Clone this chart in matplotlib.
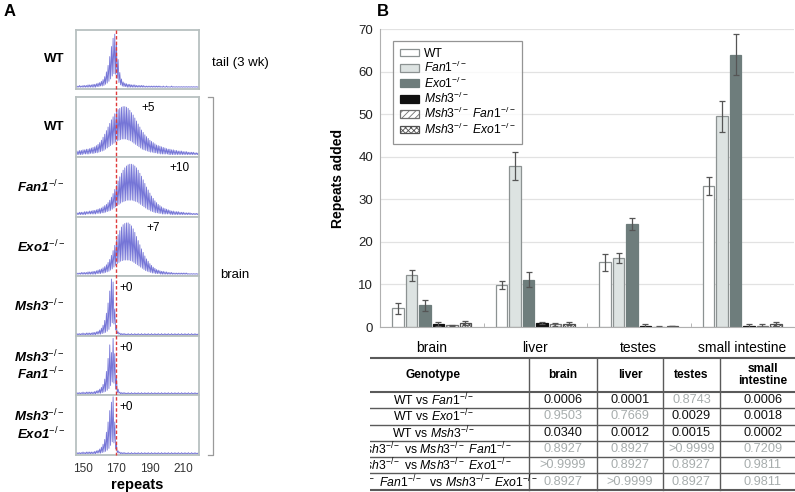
import numpy as np
import matplotlib
matplotlib.use("Agg")
import matplotlib.pyplot as plt
from matplotlib.lines import Line2D
from matplotlib.transforms import blended_transform_factory

plt.rcParams["font.family"] = ["Liberation Sans", "DejaVu Sans"]
plt.rcParams["mathtext.fontset"] = "custom"
plt.rcParams["mathtext.rm"] = "Liberation Sans"
plt.rcParams["mathtext.it"] = "Liberation Sans:italic"
plt.rcParams["mathtext.bf"] = "Liberation Sans:bold"
plt.rcParams["hatch.linewidth"] = 0.6

# ---------------- data: panel A (repeat-length traces, 146..220 repeats) ----------------
repeats = np.arange(146, 221)
reference_repeat = 169.6

tail_wt_peaks = [0.05, 0.05, 0.06, 0.05, 0.06, 0.06, 0.06, 0.07, 0.07, 0.07,
                 0.08, 0.08, 0.09, 0.10, 0.11, 0.13, 0.16, 0.21, 0.29, 0.40,
                 0.55, 0.72, 0.86, 0.93, 0.78, 0.50, 0.28, 0.17, 0.12, 0.10,
                 0.09, 0.08, 0.08, 0.07, 0.07, 0.07, 0.06, 0.06, 0.06, 0.06,
                 0.06, 0.05, 0.05, 0.05, 0.05, 0.05, 0.05, 0.05, 0.05, 0.05,
                 0.05, 0.04, 0.05, 0.04, 0.05, 0.04, 0.04, 0.05, 0.04, 0.04,
                 0.04, 0.04, 0.04, 0.04, 0.04, 0.04, 0.04, 0.04, 0.04, 0.04,
                 0.04, 0.04, 0.04, 0.04, 0.04]
tail_wt_valleys = [0.03, 0.03, 0.03, 0.03, 0.03, 0.03, 0.03, 0.03, 0.03, 0.03,
                   0.03, 0.03, 0.04, 0.04, 0.05, 0.05, 0.06, 0.08, 0.10, 0.13,
                   0.17, 0.22, 0.26, 0.25, 0.18, 0.11, 0.07, 0.05, 0.04, 0.04,
                   0.03, 0.03, 0.03, 0.03, 0.03, 0.03, 0.03, 0.03, 0.03, 0.03,
                   0.03, 0.03, 0.03, 0.03, 0.03, 0.03, 0.03, 0.03, 0.03, 0.03,
                   0.03, 0.03, 0.03, 0.03, 0.03, 0.03, 0.03, 0.03, 0.03, 0.03,
                   0.03, 0.03, 0.03, 0.03, 0.03, 0.03, 0.03, 0.03, 0.03, 0.03,
                   0.03, 0.03, 0.03, 0.03, 0.03]

brain_wt_peaks = [0.10, 0.10, 0.11, 0.11, 0.12, 0.12, 0.13, 0.13, 0.14, 0.15,
                  0.16, 0.17, 0.19, 0.21, 0.24, 0.28, 0.33, 0.38, 0.44, 0.50,
                  0.56, 0.62, 0.67, 0.72, 0.76, 0.79, 0.81, 0.83, 0.84, 0.84,
                  0.83, 0.81, 0.78, 0.74, 0.70, 0.65, 0.60, 0.55, 0.50, 0.45,
                  0.41, 0.37, 0.34, 0.31, 0.28, 0.26, 0.24, 0.22, 0.20, 0.19,
                  0.18, 0.17, 0.16, 0.15, 0.14, 0.13, 0.13, 0.12, 0.12, 0.11,
                  0.11, 0.10, 0.10, 0.10, 0.09, 0.09, 0.09, 0.08, 0.08, 0.08,
                  0.08, 0.07, 0.07, 0.07, 0.07]
brain_wt_valleys = [0.04, 0.04, 0.04, 0.04, 0.05, 0.05, 0.05, 0.05, 0.06, 0.06,
                    0.06, 0.07, 0.07, 0.08, 0.09, 0.10, 0.11, 0.13, 0.15, 0.17,
                    0.19, 0.21, 0.23, 0.25, 0.27, 0.28, 0.29, 0.30, 0.30, 0.30,
                    0.29, 0.28, 0.27, 0.25, 0.23, 0.21, 0.19, 0.17, 0.15, 0.13,
                    0.12, 0.11, 0.10, 0.09, 0.08, 0.08, 0.07, 0.07, 0.06, 0.06,
                    0.05, 0.05, 0.05, 0.05, 0.05, 0.04, 0.04, 0.04, 0.04, 0.04,
                    0.04, 0.04, 0.04, 0.04, 0.04, 0.04, 0.04, 0.04, 0.04, 0.04,
                    0.04, 0.04, 0.04, 0.04, 0.04]

brain_fan1_peaks = [0.07, 0.07, 0.08, 0.08, 0.08, 0.09, 0.09, 0.09, 0.10, 0.10,
                    0.11, 0.11, 0.12, 0.13, 0.14, 0.15, 0.17, 0.19, 0.21, 0.24,
                    0.28, 0.33, 0.39, 0.46, 0.53, 0.60, 0.67, 0.73, 0.78, 0.82,
                    0.85, 0.87, 0.88, 0.88, 0.87, 0.85, 0.82, 0.78, 0.73, 0.68,
                    0.62, 0.56, 0.50, 0.45, 0.40, 0.35, 0.31, 0.27, 0.24, 0.21,
                    0.19, 0.17, 0.15, 0.14, 0.13, 0.12, 0.11, 0.10, 0.10, 0.09,
                    0.09, 0.09, 0.08, 0.08, 0.08, 0.07, 0.07, 0.07, 0.07, 0.06,
                    0.06, 0.06, 0.06, 0.06, 0.06]
brain_fan1_valleys = [0.04, 0.04, 0.04, 0.04, 0.04, 0.04, 0.05, 0.05, 0.05, 0.05,
                      0.05, 0.05, 0.06, 0.06, 0.06, 0.07, 0.07, 0.08, 0.09, 0.10,
                      0.11, 0.13, 0.15, 0.17, 0.19, 0.21, 0.23, 0.25, 0.26, 0.27,
                      0.28, 0.28, 0.28, 0.28, 0.27, 0.26, 0.25, 0.23, 0.21, 0.19,
                      0.17, 0.15, 0.13, 0.12, 0.10, 0.09, 0.08, 0.07, 0.07, 0.06,
                      0.06, 0.05, 0.05, 0.05, 0.05, 0.05, 0.04, 0.04, 0.04, 0.04,
                      0.04, 0.04, 0.04, 0.04, 0.04, 0.04, 0.04, 0.04, 0.04, 0.04,
                      0.04, 0.04, 0.04, 0.04, 0.04]

brain_exo1_peaks = [0.05, 0.05, 0.05, 0.06, 0.06, 0.06, 0.06, 0.07, 0.07, 0.07,
                    0.08, 0.08, 0.09, 0.10, 0.11, 0.12, 0.14, 0.16, 0.19, 0.23,
                    0.28, 0.35, 0.43, 0.52, 0.61, 0.70, 0.77, 0.83, 0.87, 0.89,
                    0.90, 0.90, 0.88, 0.85, 0.80, 0.74, 0.67, 0.60, 0.53, 0.46,
                    0.40, 0.34, 0.29, 0.25, 0.21, 0.18, 0.15, 0.13, 0.11, 0.10,
                    0.09, 0.08, 0.08, 0.07, 0.07, 0.06, 0.06, 0.06, 0.05, 0.05,
                    0.05, 0.05, 0.05, 0.05, 0.05, 0.05, 0.05, 0.04, 0.04, 0.04,
                    0.04, 0.04, 0.04, 0.04, 0.04]
brain_exo1_valleys = [0.03, 0.03, 0.03, 0.03, 0.03, 0.03, 0.03, 0.03, 0.03, 0.03,
                      0.03, 0.03, 0.04, 0.04, 0.04, 0.05, 0.05, 0.06, 0.07, 0.08,
                      0.10, 0.12, 0.15, 0.18, 0.21, 0.23, 0.25, 0.26, 0.27, 0.27,
                      0.27, 0.27, 0.26, 0.25, 0.23, 0.21, 0.19, 0.17, 0.15, 0.13,
                      0.11, 0.09, 0.08, 0.07, 0.06, 0.05, 0.05, 0.04, 0.04, 0.04,
                      0.03, 0.03, 0.03, 0.03, 0.03, 0.03, 0.03, 0.03, 0.03, 0.03,
                      0.03, 0.03, 0.03, 0.03, 0.03, 0.03, 0.03, 0.03, 0.03, 0.03,
                      0.03, 0.03, 0.03, 0.03, 0.03]

brain_msh3_peaks = [0.04, 0.04, 0.04, 0.04, 0.05, 0.04, 0.05, 0.05, 0.05, 0.05,
                    0.06, 0.06, 0.07, 0.08, 0.10, 0.13, 0.18, 0.26, 0.38, 0.55,
                    0.75, 0.95, 0.90, 0.45, 0.15, 0.07, 0.05, 0.04, 0.04, 0.04,
                    0.03, 0.04, 0.03, 0.04, 0.03, 0.04, 0.03, 0.04, 0.03, 0.04,
                    0.03, 0.04, 0.03, 0.04, 0.03, 0.04, 0.03, 0.04, 0.03, 0.04,
                    0.03, 0.04, 0.03, 0.04, 0.03, 0.04, 0.03, 0.04, 0.03, 0.04,
                    0.03, 0.04, 0.03, 0.04, 0.03, 0.04, 0.03, 0.04, 0.03, 0.04,
                    0.03, 0.04, 0.03, 0.04, 0.03]
brain_msh3_fan1_peaks = [0.04, 0.04, 0.04, 0.04, 0.05, 0.04, 0.05, 0.05, 0.05, 0.05,
                         0.05, 0.06, 0.07, 0.08, 0.10, 0.13, 0.18, 0.27, 0.40, 0.62,
                         0.85, 0.72, 0.96, 0.70, 0.30, 0.10, 0.05, 0.04, 0.04, 0.04,
                         0.03, 0.04, 0.03, 0.04, 0.03, 0.04, 0.03, 0.04, 0.03, 0.04,
                         0.03, 0.04, 0.03, 0.04, 0.03, 0.04, 0.03, 0.04, 0.03, 0.04,
                         0.03, 0.04, 0.03, 0.04, 0.03, 0.04, 0.03, 0.04, 0.03, 0.04,
                         0.03, 0.04, 0.03, 0.04, 0.03, 0.04, 0.03, 0.04, 0.03, 0.04,
                         0.03, 0.04, 0.03, 0.04, 0.03]
brain_msh3_exo1_peaks = [0.04, 0.04, 0.04, 0.04, 0.05, 0.04, 0.05, 0.05, 0.05, 0.05,
                         0.05, 0.06, 0.07, 0.08, 0.10, 0.13, 0.18, 0.26, 0.38, 0.55,
                         0.74, 0.88, 0.97, 0.55, 0.18, 0.07, 0.05, 0.04, 0.04, 0.04,
                         0.03, 0.04, 0.03, 0.04, 0.03, 0.04, 0.03, 0.04, 0.03, 0.04,
                         0.03, 0.04, 0.03, 0.04, 0.03, 0.04, 0.03, 0.04, 0.03, 0.04,
                         0.03, 0.04, 0.03, 0.04, 0.03, 0.04, 0.03, 0.04, 0.03, 0.04,
                         0.03, 0.04, 0.03, 0.04, 0.03, 0.04, 0.03, 0.04, 0.03, 0.04,
                         0.03, 0.04, 0.03, 0.04, 0.03]
brain_msh3_valleys = [0.02, 0.02, 0.02, 0.02, 0.02, 0.02, 0.02, 0.02, 0.02, 0.02,
                      0.02, 0.02, 0.03, 0.03, 0.03, 0.04, 0.05, 0.06, 0.08, 0.11,
                      0.16, 0.22, 0.20, 0.10, 0.04, 0.03, 0.02, 0.02, 0.02, 0.02,
                      0.02, 0.02, 0.02, 0.02, 0.02, 0.02, 0.02, 0.02, 0.02, 0.02,
                      0.02, 0.02, 0.02, 0.02, 0.02, 0.02, 0.02, 0.02, 0.02, 0.02,
                      0.02, 0.02, 0.02, 0.02, 0.02, 0.02, 0.02, 0.02, 0.02, 0.02,
                      0.02, 0.02, 0.02, 0.02, 0.02, 0.02, 0.02, 0.02, 0.02, 0.02,
                      0.02, 0.02, 0.02, 0.02, 0.02]

trace_labels = ["WT", "WT", "Fan1$^{-/-}$", "Exo1$^{-/-}$", "Msh3$^{-/-}$",
                "Msh3$^{-/-}$\nFan1$^{-/-}$", "Msh3$^{-/-}$\nExo1$^{-/-}$"]
trace_shifts = [None, "+5", "+10", "+7", "+0", "+0", "+0"]
trace_peaks = [tail_wt_peaks, brain_wt_peaks, brain_fan1_peaks, brain_exo1_peaks,
               brain_msh3_peaks, brain_msh3_fan1_peaks, brain_msh3_exo1_peaks]
trace_valleys = [tail_wt_valleys, brain_wt_valleys, brain_fan1_valleys, brain_exo1_valleys,
                 brain_msh3_valleys, brain_msh3_valleys, brain_msh3_valleys]

# ---------------- data: panel B (repeats added) ----------------
tissues = ["brain", "liver", "testes", "small intestine"]
genotype_labels = ["WT", r"$\mathit{Fan1}^{-/-}$", r"$\mathit{Exo1}^{-/-}$",
                   r"$\mathit{Msh3}^{-/-}$", r"$\mathit{Msh3}^{-/-}$ $\mathit{Fan1}^{-/-}$",
                   r"$\mathit{Msh3}^{-/-}$ $\mathit{Exo1}^{-/-}$"]
wt = [4.4, 9.9, 15.2, 33.1]
wt_err = [1.3, 0.9, 2.0, 2.1]
fan1 = [12.1, 37.8, 16.2, 49.5]
fan1_err = [1.3, 3.3, 1.2, 3.6]
exo1 = [5.1, 11.1, 24.2, 64.0]
exo1_err = [1.3, 1.8, 1.4, 4.9]
msh3 = [0.7, 1.0, 0.2, 0.3]
msh3_err = [0.4, 0.2, 0.4, 0.4]
msh3_fan1 = [0.4, 0.6, 0.05, 0.3]
msh3_fan1_err = [0.1, 0.4, 0.1, 0.4]
msh3_exo1 = [0.9, 0.8, 0.25, 0.7]
msh3_exo1_err = [0.5, 0.4, 0.05, 0.4]

# ---------------- data: table of p values ----------------
comparisons = [r"WT vs $\mathit{Fan1}^{-/-}$",
               r"WT vs $\mathit{Exo1}^{-/-}$",
               r"WT vs $\mathit{Msh3}^{-/-}$",
               r"$\mathit{Msh3}^{-/-}$ vs $\mathit{Msh3}^{-/-}$ $\mathit{Fan1}^{-/-}$",
               r"$\mathit{Msh3}^{-/-}$ vs $\mathit{Msh3}^{-/-}$ $\mathit{Exo1}^{-/-}$",
               r"$\mathit{Msh3}^{-/-}$ $\mathit{Fan1}^{-/-}$  vs $\mathit{Msh3}^{-/-}$ $\mathit{Exo1}^{-/-}$"]
p_brain = ["0.0006", "0.9503", "0.0340", "0.8927", ">0.9999", "0.8927"]
p_liver = ["0.0001", "0.7669", "0.0012", "0.8927", "0.8927", ">0.9999"]
p_testes = ["0.8743", "0.0029", "0.0015", ">0.9999", "0.8927", "0.8927"]
p_small = ["0.0006", "0.0018", "0.0002", "0.7209", "0.9811", "0.9811"]

# ---------------- layout helpers ----------------
W, H = 795, 492
fig = plt.figure(figsize=(W / 100, H / 100), dpi=100)


def px_box(left, top, right, bottom):
    return [left / W, 1 - bottom / H, (right - left) / W, (bottom - top) / H]


def fig_xy(x, y):
    return x / W, 1 - y / H


# ---------------- panel A ----------------
tops = [30, 97, 157, 217, 276, 336, 395]
bottoms = [89, 157, 217, 276, 336, 395, 455]
shift_pos = [None, (0.585, 0.81), (0.845, 0.81), (0.626, 0.81),
             (0.407, 0.80), (0.407, 0.80), (0.407, 0.80)]
trace_axes = []
for i in range(len(trace_peaks)):
    ax = fig.add_axes(px_box(76, tops[i], 199, bottoms[i]))
    x = np.empty(2 * len(repeats))
    y = np.empty(2 * len(repeats))
    x[0::2] = repeats
    x[1::2] = repeats + 0.5
    y[0::2] = trace_peaks[i]
    y[1::2] = trace_valleys[i]
    ax.plot(x, y, color="#5d5dd0", lw=0.6, alpha=0.85)
    ax.set_xlim(145.8, 219.4)
    ax.set_ylim(0, 1)
    ax.set_yticks([])
    for s in ax.spines.values():
        s.set_color("#b8c0c0")
        s.set_linewidth(1.3)
    ax.text(-0.09, 0.5, trace_labels[i], transform=ax.transAxes, ha="right",
            va="center", fontsize=9.5, fontweight="bold",
            style="normal" if i < 2 else "italic", linespacing=1.05)
    if trace_shifts[i]:
        ax.text(*shift_pos[i], trace_shifts[i], transform=ax.transAxes, ha="center",
                va="center", fontsize=8.5)
    if i < len(trace_peaks) - 1:
        ax.set_xticks([])
    else:
        ax.set_xticks([150, 170, 190, 210])
        ax.tick_params(axis="x", length=0, pad=6, labelsize=8.5, labelcolor="#333333")
        ax.set_xlabel("repeats", fontsize=10.5, fontweight="bold", labelpad=2)
    trace_axes.append(ax)

# red dashed reference line across all traces
trans = blended_transform_factory(trace_axes[-1].transData, fig.transFigure)
fig.add_artist(Line2D([reference_repeat, reference_repeat], [1 - 30 / H, 1 - 455 / H],
                      transform=trans, color="#e03a3a", lw=1.0, dashes=(2.5, 1.5)))

# bracket for brain samples
bx0, by0 = fig_xy(208, 97)
bx1, by1 = fig_xy(213, 455)
fig.add_artist(Line2D([bx0, bx1, bx1, bx0], [by0, by0, by1, by1],
                      transform=fig.transFigure, color="#9a9a9a", lw=0.9))
fig.text(*fig_xy(212, 63), "tail (3 wk)", fontsize=9.5, va="center", ha="left")
fig.text(*fig_xy(220, 275), "brain", fontsize=9.5, va="center", ha="left")
fig.text(*fig_xy(4, 12), "A", fontsize=12, fontweight="bold", va="center", ha="left")
fig.text(*fig_xy(377, 12), "B", fontsize=12, fontweight="bold", va="center", ha="left")

# ---------------- panel B ----------------
axb = fig.add_axes(px_box(380, 29, 794, 327))
series = [(wt, wt_err), (fan1, fan1_err), (exo1, exo1_err), (msh3, msh3_err),
          (msh3_fan1, msh3_fan1_err), (msh3_exo1, msh3_exo1_err)]
faces = ["white", "#dde3e2", "#6e7d7c", "#111111", "white", "white"]
edges = ["#8c9292", "#8c9292", "#6e7d7c", "#111111", "#707070", "#505050"]
hatches = [None, None, None, None, "/////", "xxxxxx"]
xc = np.arange(len(tissues))
step = 0.13
width = 0.112
for i, (vals, errs) in enumerate(series):
    axb.bar(xc + (i - 2.5) * step, vals, width=width, color=faces[i],
            edgecolor=edges[i], linewidth=0.9, hatch=hatches[i],
            label=genotype_labels[i], zorder=2,
            yerr=errs, error_kw=dict(ecolor="#555555", elinewidth=0.9,
                                     capsize=2.5, capthick=0.9))
axb.set_xlim(-0.5, 3.5)
axb.set_ylim(0, 70)
axb.set_yticks(range(0, 71, 10))
axb.yaxis.grid(True, color="#e2e2e2", lw=0.9, zorder=0)
axb.set_axisbelow(True)
axb.set_xticks(xc)
axb.set_xticklabels(tissues, fontsize=10)
axb.set_xticks([0.5, 1.5, 2.5], minor=True)
axb.tick_params(axis="x", which="major", length=0, pad=10)
axb.tick_params(axis="x", which="minor", length=3, direction="in", color="#aaaaaa")
axb.tick_params(axis="y", length=0, labelsize=9.5, pad=5, labelcolor="#222222")
for side in ["top", "right"]:
    axb.spines[side].set_visible(False)
axb.spines["left"].set_color("#b0b0b0")
axb.spines["bottom"].set_color("#b0b0b0")
axb.set_ylabel("Repeats added", fontsize=10, fontweight="bold")
axb.yaxis.set_label_coords(-(380 - 345) / 414, 0.5)
leg = axb.legend(loc="upper left", bbox_to_anchor=((393 - 380) / 414, (327 - 41) / 298),
                 fontsize=8.7, frameon=True, fancybox=False, edgecolor="#7a7a7a",
                 handlelength=1.6, handleheight=0.6, labelspacing=0.02,
                 borderpad=0.55, handletextpad=0.4, borderaxespad=0)
leg.get_frame().set_linewidth(0.9)
leg.set_zorder(5)

# ---------------- table ----------------
axt = fig.add_axes(px_box(370, 350, 795, 492))
axt.set_xlim(370, 795)
axt.set_ylim(492, 350)
axt.axis("off")
col_edges = [338, 529, 597, 663, 720, 806]
row_edges = [358, 392, 408.3, 424.6, 440.9, 457.2, 473.5, 489.8]
headers = ["Genotype", "brain", "liver", "testes", "small\nintestine"]
for k, yv in enumerate(row_edges):
    axt.plot([370, 795], [yv, yv], color="#5a5a5a",
             lw=1.5 if k in (0, 1, len(row_edges) - 1) else 1.0, clip_on=True)
for xv in col_edges[1:-1]:
    axt.plot([xv, xv], [row_edges[0], row_edges[-1]], color="#5a5a5a", lw=1.0)
for j, hdr in enumerate(headers):
    axt.text((col_edges[j] + col_edges[j + 1]) / 2, (row_edges[0] + row_edges[1]) / 2,
             hdr, ha="center", va="center", fontsize=8.6, fontweight="bold",
             linespacing=0.95, clip_on=True)
p_cols = [p_brain, p_liver, p_testes, p_small]
for r, comp in enumerate(comparisons):
    yc = (row_edges[r + 1] + row_edges[r + 2]) / 2
    axt.text((col_edges[0] + col_edges[1]) / 2, yc, comp, ha="center", va="center",
             fontsize=8.8, clip_on=True)
    for j, col in enumerate(p_cols):
        val = col[r]
        signif = (not val.startswith(">")) and float(val) < 0.05
        axt.text((col_edges[j + 1] + col_edges[j + 2]) / 2, yc, val, ha="center",
                 va="center", fontsize=9.2, clip_on=True,
                 color="#111111" if signif else "#a7adad")

fig.savefig("out.png", dpi=100)
